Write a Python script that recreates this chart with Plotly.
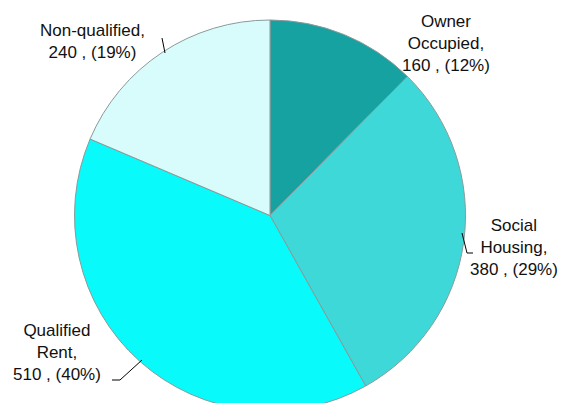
import plotly.graph_objects as go

# data
labels = ["Owner Occupied", "Social Housing", "Qualified Rent", "Non-qualified"]
label_text = ["Owner<br>Occupied,", "Social<br>Housing,", "Qualified<br>Rent,", "Non-qualified,"]
values = [160, 380, 510, 240]
colors = ["#17a2a2", "#3fd8d8", "#08fafa", "#d8fcfc"]

W, H = 568, 403
OFF = 8  # page body margin
TOP = 12


def px(x, y):
    # screen pixel -> paper coords (paper = plot area inside margins)
    return (x - OFF) / W, 1 - (y - OFF - TOP) / (H - TOP)


total = sum(values)
fig = go.Figure(
    go.Pie(
        labels=labels,
        values=values,
        sort=False,
        direction="clockwise",
        rotation=0,
        marker=dict(colors=colors, line=dict(color="#8a9a9a", width=1)),
        textinfo="none",
        hoverinfo="label+value+percent",
        domain=dict(x=[0, 524 / W], y=[0, 1]),
        showlegend=False,
    )
)

# label placement (pixel centres of text blocks) and leader lines
label_pos = [(446, 44), (514, 247), (57, 352), (92, 42)]
leaders = [
    None,
    "M 462 233 L 467 253 L 473 253",
    "M 112 380 L 120 380 L 142 360",
    "M 162 38 L 165 53",
]

for name, txt, v, (x, y) in zip(labels, label_text, values, label_pos):
    pct = round(100 * v / total)
    ax, ay = px(x, y)
    fig.add_annotation(
        x=ax, y=ay, xref="paper", yref="paper",
        text=f"{txt}<br>{v} , ({pct}%)",
        showarrow=False, align="center",
        xanchor="center", yanchor="middle",
        font=dict(family="Liberation Sans, Arial", size=17, color="#111111"),
    )

for path in leaders:
    if path is None:
        continue
    pts = path.replace("M", "").split("L")
    conv = []
    for p in pts:
        x, y = map(float, p.split())
        cx, cy = px(x, y)
        conv.append(f"{cx:.5f} {cy:.5f}")
    fig.add_shape(
        type="path", xref="paper", yref="paper",
        path="M " + " L ".join(conv),
        line=dict(color="#000000", width=1),
    )

fig.update_layout(
    width=W, height=H,
    margin=dict(l=0, r=0, t=TOP, b=0),
    paper_bgcolor="white",
    plot_bgcolor="white",
)

fig.write_html("out.html")
